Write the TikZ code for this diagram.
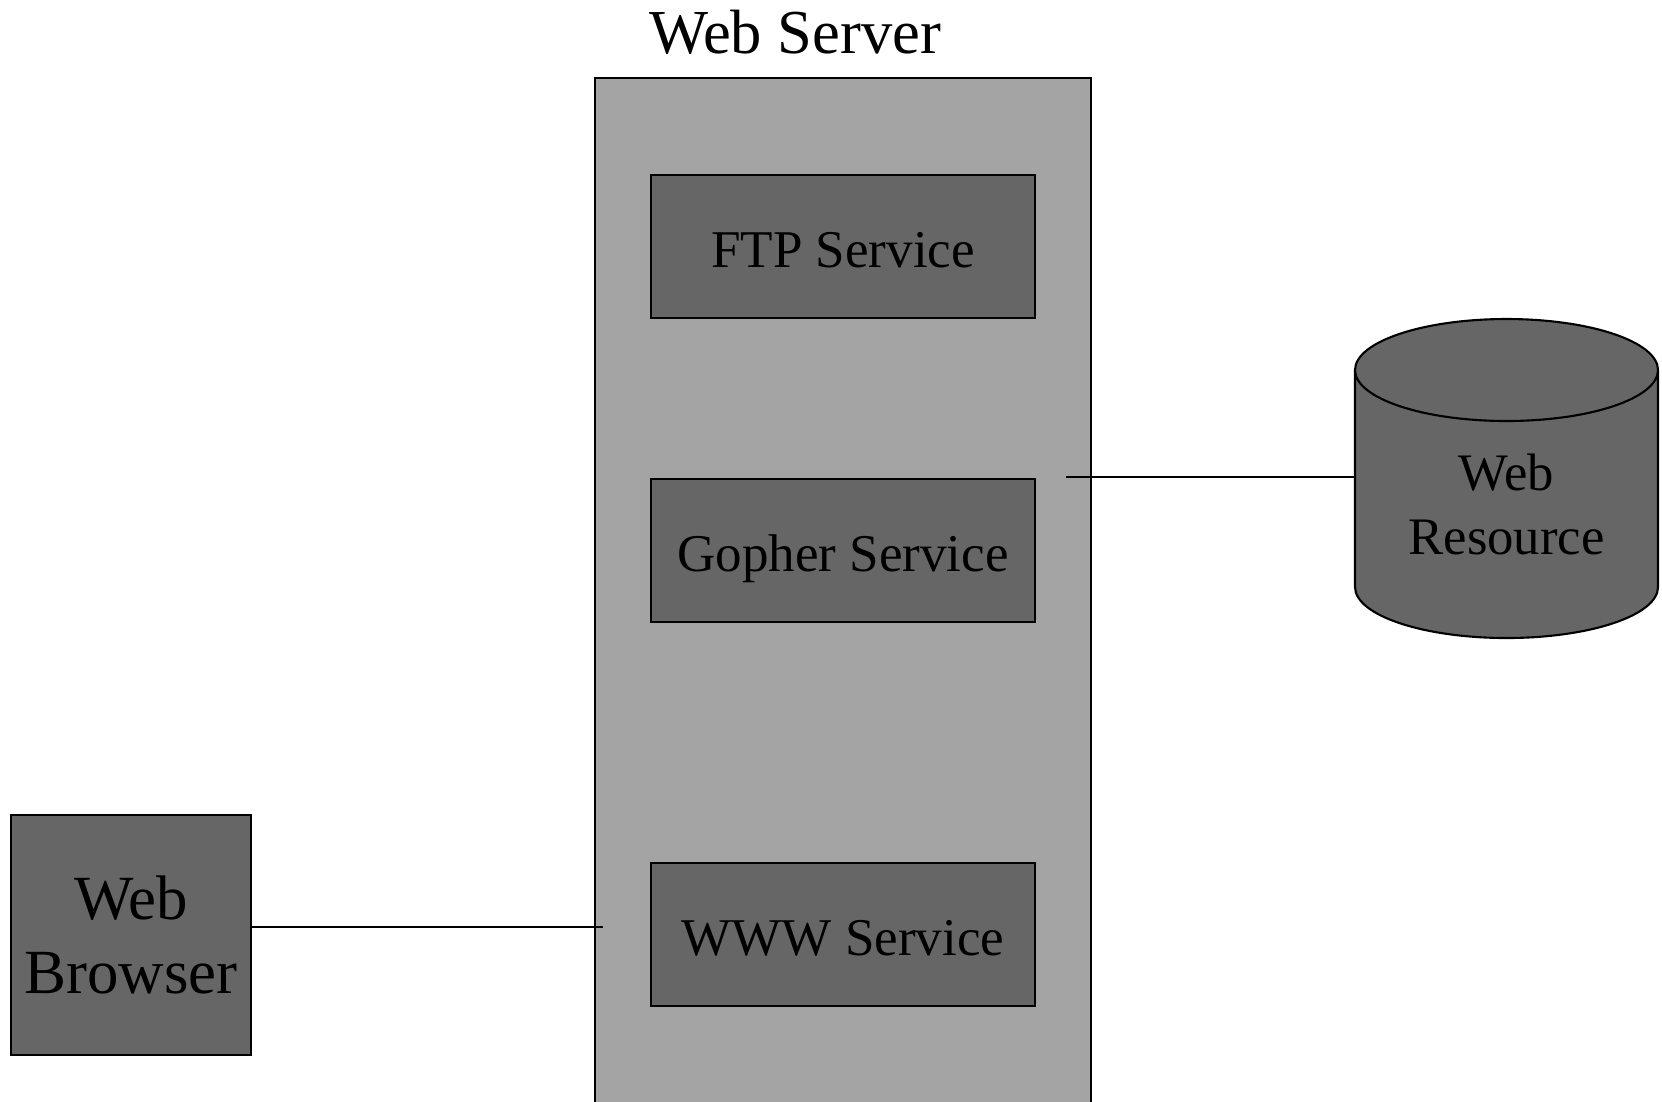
\documentclass[tikz,border=0pt]{standalone}
\usepackage{fontspec}
\setmainfont{Liberation Serif}
\usetikzlibrary{shapes.geometric}

\definecolor{srvgray}{HTML}{A4A4A4}
\definecolor{boxgray}{HTML}{666666}

\begin{document}
\begin{tikzpicture}[x=0.1mm, y=-0.1mm, line width=0.6pt,
    service/.style={rectangle, draw, fill=boxgray, inner sep=0pt, minimum width=38.4mm, minimum height=14.3mm, text height=13pt, text depth=1pt, font=\fontsize{15.1}{18}\selectfont}]

		\useasboundingbox (0,0) rectangle (1662,1101);
		\clip (0,0) rectangle (1662,1101);

		\node[anchor=base, font=\fontsize{17.8}{20}\selectfont] (title) at (795,53) {Web Server};

		\node[rectangle, draw, fill=srvgray, inner sep=0pt, minimum width=49.6mm, minimum height=104mm] (server) at (843,598) {};
		\node[service] (ftp) at (843,246.5) {FTP Service};
		\node[service] (gopher) at (843,550.5) {Gopher Service};
		\node[service] (www) at (843,934.5) {WWW Service};

		\node[rectangle, draw, fill=boxgray, inner sep=0pt, minimum width=24mm, minimum height=24mm, align=center, font=\fontsize{17.9}{21}\selectfont] (browser) at (131,935) {Web\\Browser};
		\node[cylinder, shape border rotate=90, aspect=0.52, draw, fill=boxgray, inner sep=0pt, minimum width=30.3mm, minimum height=31.9mm, align=center, font=\fontsize{15}{18}\selectfont, anchor=shape center] (res) at (1506.5,478.5) {Web\\Resource};

		\coordinate (srvL) at (603,927);
		\coordinate (srvR) at (1066,477);
		\draw (browser.east |- srvL) -- (srvL);
		\draw (srvR) -- (res.west |- srvR);
    \end{tikzpicture}
\end{document}
